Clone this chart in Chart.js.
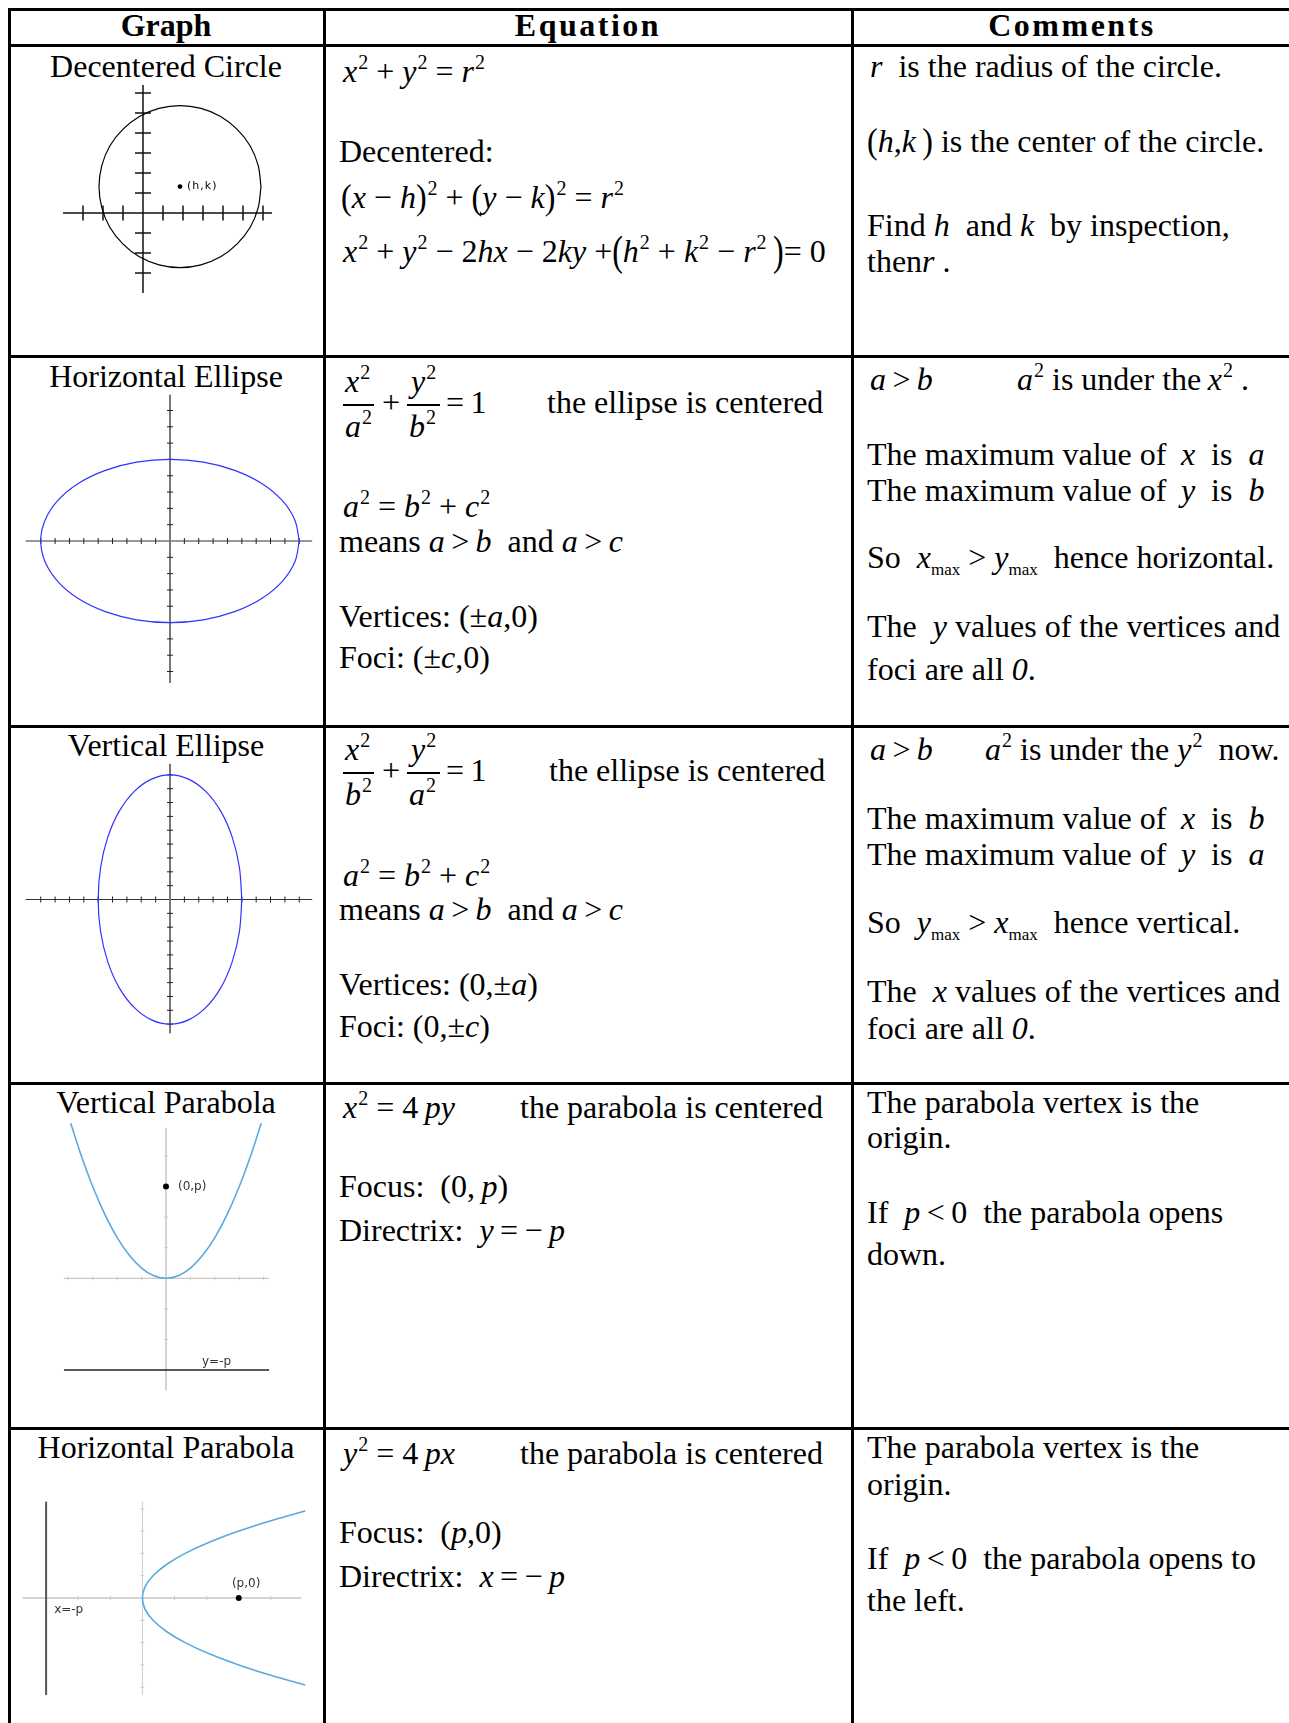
<!DOCTYPE html>
<html>
<head>
<meta charset="utf-8">
<title>Conic sections</title>
<script src="https://cdn.jsdelivr.net/npm/chart.js@4.4.1/dist/chart.umd.min.js"></script>
<style>
  body { margin: 0; background: #fff; }
  #page { position: relative; width: 1289px; height: 1723px; overflow: hidden;
          font-family: "Liberation Serif", "Times New Roman", serif; color: #000; }
  .hl { position: absolute; left: 8px; width: 1290px; height: 3px; background: #000; }
  .vl { position: absolute; top: 8px; height: 1720px; width: 3px; background: #000; }
  .t { position: absolute; font-size: 32px; line-height: 32px; white-space: nowrap; }
  .c { transform: translateX(-50%); }
  .hd { font-weight: bold; font-size: 32px; letter-spacing: 2.5px; }
  sup { font-size: 20px; vertical-align: 0; position: relative; top: -13px; line-height: 0; margin-left: 1px; }
  sub { font-size: 17px; vertical-align: 0; position: relative; top: 7px; line-height: 0; }
  .bp { display: inline-block; transform: scaleY(1.35); transform-origin: 50% 62%; }
  .mp { display: inline-block; transform: scaleY(1.12); transform-origin: 50% 62%; }
  .bar { position: absolute; height: 1.5px; background: #000; }
  canvas { position: absolute; }
</style>
</head>
<body>
<div id="page">
  <!-- table grid -->
  <div class="hl" style="top:8px"></div>
  <div class="hl" style="top:44px"></div>
  <div class="hl" style="top:355px"></div>
  <div class="hl" style="top:725px"></div>
  <div class="hl" style="top:1082px"></div>
  <div class="hl" style="top:1427px"></div>
  <div class="vl" style="left:8px"></div>
  <div class="vl" style="left:323px"></div>
  <div class="vl" style="left:851px"></div>

  <!-- header -->
  <div class="t c hd" style="left:166px;top:9px;letter-spacing:0">Graph</div>
  <div class="t c hd" style="left:588px;top:9px">Equation</div>
  <div class="t c hd" style="left:1072px;top:9px">Comments</div>

  <!-- row 1 : circle -->
  <div class="t c" style="left:166px;top:50px">Decentered Circle</div>
  <div class="t" style="left:343px;top:55px"><i>x</i><sup>2</sup>&nbsp;+ <i>y</i><sup>2</sup>&nbsp;= <i>r</i><sup>2</sup></div>
  <div class="t" style="left:339px;top:135px">Decentered:</div>
  <div class="t" style="left:341px;top:181px"><span class="mp">(</span><i>x</i> − <i>h</i><span class="mp">)</span><sup>2</sup> + <span class="mp">(</span><i>y</i> − <i>k</i><span class="mp">)</span><sup>2</sup> = <i>r</i><sup>2</sup></div>
  <div class="t" style="left:343px;top:235px"><i>x</i><sup>2</sup> + <i>y</i><sup>2</sup> − 2<i>hx</i> − 2<i>ky</i> +<span class="bp">(</span><i>h</i><sup>2</sup> + <i>k</i><sup>2</sup> − <i>r</i><sup>2</sup>&thinsp;<span class="bp">)</span>= 0</div>
  <div class="t" style="left:870px;top:50px"><i>r</i>&nbsp; is the radius of the circle.</div>
  <div class="t" style="left:867px;top:125px"><span class="mp">(</span><i>h</i>,<i>k</i>&thinsp;<span class="mp">)</span> is the center of the circle.</div>
  <div class="t" style="left:867px;top:209px">Find <i>h</i>&nbsp; and <i>k</i>&nbsp; by inspection,</div>
  <div class="t" style="left:867px;top:245px">then<i>r</i> .</div>

  <!-- row 2 : horizontal ellipse -->
  <div class="t c" style="left:166px;top:360px">Horizontal Ellipse</div>
  <div class="t" style="left:345px;top:365px"><i>x</i><sup>2</sup></div>
  <div class="bar" style="left:343px;top:404px;width:31px"></div>
  <div class="t" style="left:345px;top:410px"><i>a</i><sup>2</sup></div>
  <div class="t" style="left:382px;top:386px">+</div>
  <div class="t" style="left:411px;top:365px"><i>y</i><sup>2</sup></div>
  <div class="bar" style="left:407px;top:404px;width:33px"></div>
  <div class="t" style="left:409px;top:410px"><i>b</i><sup>2</sup></div>
  <div class="t" style="left:446px;top:386px">=&thinsp;1</div>
  <div class="t" style="left:547px;top:386px">the ellipse is centered</div>
  <div class="t" style="left:343px;top:490px"><i>a</i><sup>2</sup> = <i>b</i><sup>2</sup> + <i>c</i><sup>2</sup></div>
  <div class="t" style="left:339px;top:525px">means <i>a</i>&thinsp;&gt;&thinsp;<i>b</i>&nbsp; and <i>a</i>&thinsp;&gt;&thinsp;<i>c</i></div>
  <div class="t" style="left:339px;top:600px">Vertices: (±<i>a</i>,0)</div>
  <div class="t" style="left:339px;top:641px">Foci: (±<i>c</i>,0)</div>
  <div class="t" style="left:870px;top:363px"><i>a</i>&thinsp;&gt;&thinsp;<i>b</i></div>
  <div class="t" style="left:1017px;top:363px"><i>a</i><sup>2</sup> is under the&thinsp;<i>x</i><sup>2</sup> .</div>
  <div class="t" style="left:867px;top:438px">The maximum value of&thinsp; <i>x</i>&nbsp; is&nbsp; <i>a</i></div>
  <div class="t" style="left:867px;top:474px">The maximum value of&thinsp; <i>y</i>&nbsp; is&nbsp; <i>b</i></div>
  <div class="t" style="left:867px;top:541px">So&nbsp; <i>x</i><sub>max</sub> &gt; <i>y</i><sub>max</sub>&nbsp; hence horizontal.</div>
  <div class="t" style="left:867px;top:610px">The&nbsp; <i>y</i> values of the vertices and</div>
  <div class="t" style="left:867px;top:653px">foci are all <i>0</i>.</div>

  <!-- row 3 : vertical ellipse -->
  <div class="t c" style="left:166px;top:729px">Vertical Ellipse</div>
  <div class="t" style="left:345px;top:733px"><i>x</i><sup>2</sup></div>
  <div class="bar" style="left:343px;top:772px;width:31px"></div>
  <div class="t" style="left:345px;top:778px"><i>b</i><sup>2</sup></div>
  <div class="t" style="left:382px;top:754px">+</div>
  <div class="t" style="left:411px;top:733px"><i>y</i><sup>2</sup></div>
  <div class="bar" style="left:407px;top:772px;width:33px"></div>
  <div class="t" style="left:409px;top:778px"><i>a</i><sup>2</sup></div>
  <div class="t" style="left:446px;top:754px">=&thinsp;1</div>
  <div class="t" style="left:549px;top:754px">the ellipse is centered</div>
  <div class="t" style="left:343px;top:859px"><i>a</i><sup>2</sup> = <i>b</i><sup>2</sup> + <i>c</i><sup>2</sup></div>
  <div class="t" style="left:339px;top:893px">means <i>a</i>&thinsp;&gt;&thinsp;<i>b</i>&nbsp; and <i>a</i>&thinsp;&gt;&thinsp;<i>c</i></div>
  <div class="t" style="left:339px;top:968px">Vertices: (0,±<i>a</i>)</div>
  <div class="t" style="left:339px;top:1010px">Foci: (0,±<i>c</i>)</div>
  <div class="t" style="left:870px;top:733px"><i>a</i>&thinsp;&gt;&thinsp;<i>b</i></div>
  <div class="t" style="left:985px;top:733px"><i>a</i><sup>2</sup> is under the&nbsp;<i>y</i><sup>2</sup>&nbsp; now.</div>
  <div class="t" style="left:867px;top:802px">The maximum value of&thinsp; <i>x</i>&nbsp; is&nbsp; <i>b</i></div>
  <div class="t" style="left:867px;top:838px">The maximum value of&thinsp; <i>y</i>&nbsp; is&nbsp; <i>a</i></div>
  <div class="t" style="left:867px;top:906px">So&nbsp; <i>y</i><sub>max</sub> &gt; <i>x</i><sub>max</sub>&nbsp; hence vertical.</div>
  <div class="t" style="left:867px;top:975px">The&nbsp; <i>x</i> values of the vertices and</div>
  <div class="t" style="left:867px;top:1012px">foci are all <i>0</i>.</div>

  <!-- row 4 : vertical parabola -->
  <div class="t c" style="left:166px;top:1086px">Vertical Parabola</div>
  <div class="t" style="left:343px;top:1091px"><i>x</i><sup>2</sup> = 4&thinsp;<i>py</i></div>
  <div class="t" style="left:520px;top:1091px">the parabola is centered</div>
  <div class="t" style="left:339px;top:1170px">Focus:&nbsp; (0,&thinsp;<i>p</i>)</div>
  <div class="t" style="left:339px;top:1214px">Directrix:&nbsp; <i>y</i>&thinsp;=&thinsp;−&thinsp;<i>p</i></div>
  <div class="t" style="left:867px;top:1086px">The parabola vertex is the</div>
  <div class="t" style="left:867px;top:1121px">origin.</div>
  <div class="t" style="left:867px;top:1196px">If&nbsp; <i>p</i>&thinsp;&lt;&thinsp;0&nbsp; the parabola opens</div>
  <div class="t" style="left:867px;top:1238px">down.</div>

  <!-- row 5 : horizontal parabola -->
  <div class="t c" style="left:166px;top:1431px">Horizontal Parabola</div>
  <div class="t" style="left:343px;top:1437px"><i>y</i><sup>2</sup> = 4&thinsp;<i>px</i></div>
  <div class="t" style="left:520px;top:1437px">the parabola is centered</div>
  <div class="t" style="left:339px;top:1516px">Focus:&nbsp; (<i>p</i>,0)</div>
  <div class="t" style="left:339px;top:1560px">Directrix:&nbsp; <i>x</i>&thinsp;=&thinsp;−&thinsp;<i>p</i></div>
  <div class="t" style="left:867px;top:1431px">The parabola vertex is the</div>
  <div class="t" style="left:867px;top:1468px">origin.</div>
  <div class="t" style="left:867px;top:1542px">If&nbsp; <i>p</i>&thinsp;&lt;&thinsp;0&nbsp; the parabola opens to</div>
  <div class="t" style="left:867px;top:1584px">the left.</div>

  <canvas id="circleChart" width="240" height="250" style="left:43px;top:63px"></canvas>
  <canvas id="hEllipseChart" width="316" height="310" style="left:12px;top:386px"></canvas>
  <canvas id="vEllipseChart" width="316" height="277" style="left:12px;top:761px"></canvas>
  <canvas id="vParabolaChart" width="232" height="306" style="left:50px;top:1110px"></canvas>
  <canvas id="hParabolaChart" width="305" height="212" style="left:14px;top:1492px"></canvas>
</div>

<script>
// Decentered circle: center (h,k) and points round it every 15 degrees
const circleCenter = [1.85, 1.32];
const circleX = [5.90, 5.76, 5.36, 4.71, 3.88, 2.90, 1.85, 0.80, -0.18, -1.01, -1.66, -2.06, -2.20,
                 -2.06, -1.66, -1.01, -0.18, 0.80, 1.85, 2.90, 3.88, 4.71, 5.36, 5.76, 5.90];
const circleY = [1.32, 2.37, 3.35, 4.18, 4.83, 5.23, 5.37, 5.23, 4.83, 4.18, 3.35, 2.37, 1.32,
                 0.27, -0.71, -1.54, -2.19, -2.59, -2.73, -2.59, -2.19, -1.54, -0.71, 0.27, 1.32];
const circleTicksX = [-3, -2, -1, 1, 2, 3, 4, 5, 6];
const circleTicksY = [-3, -2, -1, 1, 2, 3, 4, 5, 6];

// Horizontal ellipse, a = 9, b = 5
const hEllipseX = [9, 8.69, 7.79, 6.36, 4.5, 2.33, 0, -2.33, -4.5, -6.36, -7.79, -8.69, -9,
                   -8.69, -7.79, -6.36, -4.5, -2.33, 0, 2.33, 4.5, 6.36, 7.79, 8.69, 9];
const hEllipseY = [0, 1.29, 2.5, 3.54, 4.33, 4.83, 5, 4.83, 4.33, 3.54, 2.5, 1.29, 0,
                   -1.29, -2.5, -3.54, -4.33, -4.83, -5, -4.83, -4.33, -3.54, -2.5, -1.29, 0];
const hEllipseTicksX = [-9, -8, -7, -6, -5, -4, -3, -2, -1, 1, 2, 3, 4, 5, 6, 7, 8, 9];
const hEllipseTicksY = [-8, -7, -6, -5, -4, -3, -2, -1, 1, 2, 3, 4, 5, 6, 7, 8];

// Vertical ellipse, b = 5 across, a = 9 up
const vEllipseX = [5, 4.83, 4.33, 3.54, 2.5, 1.29, 0, -1.29, -2.5, -3.54, -4.33, -4.83, -5,
                   -4.83, -4.33, -3.54, -2.5, -1.29, 0, 1.29, 2.5, 3.54, 4.33, 4.83, 5];
const vEllipseY = [0, 2.33, 4.5, 6.36, 7.79, 8.69, 9, 8.69, 7.79, 6.36, 4.5, 2.33, 0,
                   -2.33, -4.5, -6.36, -7.79, -8.69, -9, -8.69, -7.79, -6.36, -4.5, -2.33, 0];
const vEllipseTicksX = [-9, -8, -7, -6, -5, -4, -3, -2, -1, 1, 2, 3, 4, 5, 6, 7, 8, 9];
const vEllipseTicksY = [-9, -8, -7, -6, -5, -4, -3, -2, -1, 1, 2, 3, 4, 5, 6, 7, 8, 9];

// Vertical parabola x^2 = 4py with p = 3
const vParabolaX = [-7.8, -7, -6, -5, -4, -3, -2, -1, 0, 1, 2, 3, 4, 5, 6, 7, 7.8];
const vParabolaY = [5.07, 4.08, 3, 2.08, 1.33, 0.75, 0.33, 0.08, 0, 0.08, 0.33, 0.75, 1.33, 2.08, 3, 4.08, 5.07];
const vParabolaTicksX = [-8, -6, -4, -2, 2, 4, 6, 8];
const vParabolaTicksY = [-2, -1, 1, 2, 3, 4];
const vParabolaFocus = [0, 3];
const vParabolaDirectrix = -3;

// Horizontal parabola y^2 = 4px with p = 3
const hParabolaX = [5.07, 4.08, 3, 2.08, 1.33, 0.75, 0.33, 0.08, 0, 0.08, 0.33, 0.75, 1.33, 2.08, 3, 4.08, 5.07];
const hParabolaY = [7.8, 7, 6, 5, 4, 3, 2, 1, 0, -1, -2, -3, -4, -5, -6, -7, -7.8];
const hParabolaTicksX = [-2, -1, 1, 2, 3, 4];
const hParabolaTicksY = [-8, -6, -4, -2, 2, 4, 6, 8];
const hParabolaFocus = [3, 0];
const hParabolaDirectrix = -3;

const zip = (xs, ys) => xs.map((x, i) => ({ x, y: ys[i] }));

// small text written at data coordinates
const textLabels = {
  id: 'textLabels',
  afterDatasetsDraw(chart, args, opts) {
    const ctx = chart.ctx;
    const items = opts.items || [];
    items.forEach(it => {
      ctx.save();
      ctx.font = opts.font;
      ctx.fillStyle = opts.color;
      if (opts.spacing) ctx.letterSpacing = opts.spacing;
      ctx.textAlign = it.align || 'left';
      ctx.textBaseline = it.baseline || 'middle';
      ctx.fillText(it.text, chart.scales.x.getPixelForValue(it.x), chart.scales.y.getPixelForValue(it.y));
      ctx.restore();
    });
  }
};

function segment(x0, y0, x1, y1, color, width) {
  return { data: [{ x: x0, y: y0 }, { x: x1, y: y1 }], showLine: true, borderColor: color,
           borderWidth: width, pointRadius: 0, tension: 0 };
}
function ticks(points, vertical, len, color, width) {
  return { data: points, showLine: false, pointStyle: 'line', pointRotation: vertical ? 90 : 0,
           pointRadius: len, pointBorderColor: color, pointBorderWidth: width,
           pointBackgroundColor: color, borderColor: color };
}
function curve(xs, ys, color, width) {
  return { data: zip(xs, ys), showLine: true, borderColor: color, borderWidth: width,
           pointRadius: 0, tension: 0.34, fill: false };
}
function dot(p, r) {
  return { data: [{ x: p[0], y: p[1] }], showLine: false, pointRadius: r,
           pointBackgroundColor: '#000', pointBorderColor: '#000', pointBorderWidth: 0 };
}

function draw(id, xRange, yRange, datasets, labels) {
  // later datasets sit on top (curve and dots over the axes)
  datasets.forEach((d, i) => { d.order = datasets.length - i; });
  new Chart(document.getElementById(id), {
    type: 'scatter',
    data: { datasets },
    options: {
      responsive: false,
      animation: false,
      events: [],
      layout: { padding: 0, autoPadding: false },
      scales: {
        x: { type: 'linear', display: false, min: xRange[0], max: xRange[1] },
        y: { type: 'linear', display: false, min: yRange[0], max: yRange[1] }
      },
      plugins: {
        legend: { display: false },
        tooltip: { enabled: false },
        textLabels: labels || { items: [] }
      }
    },
    plugins: [textLabels]
  });
}

// circle
draw('circleChart', [-5, 7], [-5, 7.5], [
  segment(-4, 0, 6.45, 0, '#111', 1.5),
  segment(0, -4, 0, 6.4, '#111', 1.5),
  ticks(circleTicksX.map(v => ({ x: v, y: 0 })), true, 7.5, '#111', 1.5),
  ticks(circleTicksY.map(v => ({ x: 0, y: v })), false, 8, '#111', 1.5),
  curve(circleX, circleY, '#000', 1.2),
  dot(circleCenter, 2.4)
], { font: '11px "DejaVu Sans"', color: '#000', spacing: '1px',
     items: [{ text: '(h,k)', x: circleCenter[0] + 0.35, y: circleCenter[1] }] });

// horizontal ellipse
draw('hEllipseChart', [-11, 11], [-9.5, 9.5], [
  segment(-10.05, 0, 9.9, 0, '#333', 1.2),
  segment(0, -8.7, 0, 8.96, '#777', 2),
  ticks(hEllipseTicksX.map(v => ({ x: v, y: 0 })), true, 3, '#222', 1),
  ticks(hEllipseTicksY.map(v => ({ x: 0, y: v })), false, 3, '#222', 1),
  curve(hEllipseX, hEllipseY, 'rgb(50,50,255)', 1.2)
]);

// vertical ellipse
draw('vEllipseChart', [-11, 11], [-10, 10], [
  segment(-10.05, 0, 9.9, 0, '#333', 1.2),
  segment(0, -9.66, 0, 9.8, '#777', 2),
  ticks(vEllipseTicksX.map(v => ({ x: v, y: 0 })), true, 3, '#222', 1),
  ticks(vEllipseTicksY.map(v => ({ x: 0, y: v })), false, 3, '#222', 1),
  curve(vEllipseX, vEllipseY, 'rgb(50,50,255)', 1.2)
]);

// vertical parabola
draw('vParabolaChart', [-9.5, 9.5], [-4.5, 5.5], [
  segment(-8.36, 0, 8.44, 0, '#bbb', 1),
  segment(0, -3.67, 0, 4.92, '#aaa', 1),
  segment(-8.36, vParabolaDirectrix, 8.44, vParabolaDirectrix, '#222', 1.5),
  ticks(vParabolaTicksX.map(v => ({ x: v, y: 0 })), true, 2, '#ccc', 1),
  ticks(vParabolaTicksY.map(v => ({ x: 0, y: v })), false, 2, '#ccc', 1),
  curve(vParabolaX, vParabolaY, '#5aa9e0', 1.6),
  dot(vParabolaFocus, 3)
], { font: '12px "DejaVu Sans"', color: '#333',
     items: [{ text: '(0,p)', x: 0.98, y: vParabolaFocus[1] },
             { text: 'y=-p', x: 2.95, y: -2.83, baseline: 'alphabetic' }] });

// horizontal parabola
draw('hParabolaChart', [-4, 5.5], [-9.5, 9.5], [
  segment(-3.73, 0, 4.95, 0, '#aaa', 1),
  segment(0, -8.7, 0, 8.64, '#ccc', 1),
  segment(hParabolaDirectrix, -8.7, hParabolaDirectrix, 8.64, '#555', 2),
  ticks(hParabolaTicksX.map(v => ({ x: v, y: 0 })), true, 2, '#ccc', 1),
  ticks(hParabolaTicksY.map(v => ({ x: 0, y: v })), false, 2, '#ccc', 1),
  curve(hParabolaX, hParabolaY, '#5aa9e0', 1.6),
  dot(hParabolaFocus, 3)
], { font: '12px "DejaVu Sans"', color: '#333',
     items: [{ text: '(p,0)', x: 3.23, y: 0.99, align: 'center', baseline: 'alphabetic' },
             { text: 'x=-p', x: -2.75, y: -1.35, baseline: 'alphabetic' }] });
</script>
</body>
</html>
